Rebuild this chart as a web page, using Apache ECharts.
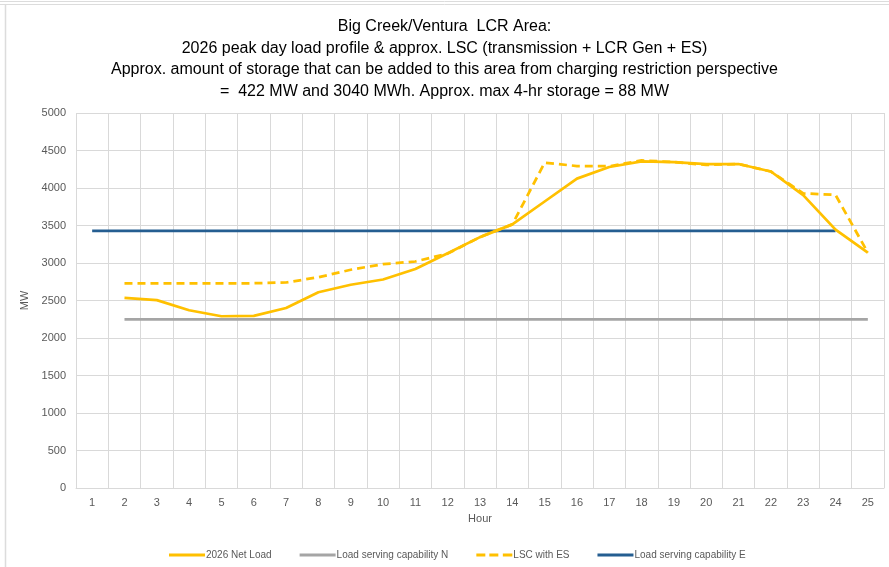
<!DOCTYPE html>
<html>
<head>
<meta charset="utf-8">
<script src="https://cdn.jsdelivr.net/npm/echarts@6/dist/echarts.min.js"></script>
<style>
html,body{margin:0;padding:0;background:#fff;}
#c{width:889px;height:567px;}
</style>
</head>
<body>
<div id="c"></div>
<script>
var hours = ['1','2','3','4','5','6','7','8','9','10','11','12','13','14','15','16','17','18','19','20','21','22','23','24','25'];
var netLoad = [null,2535,2505,2370,2290,2295,2400,2610,2710,2780,2920,3130,3345,3515,3820,4125,4280,4355,4345,4318,4320,4220,3905,3445,3138];
var capN = [null,2250,2250,2250,2250,2250,2250,2250,2250,2250,2250,2250,2250,2250,2250,2250,2250,2250,2250,2250,2250,2250,2250,2250,2250];
var lscES = [null,2730,2730,2730,2730,2730,2740,2810,2910,2985,3020,3125,3345,3515,4337,4293,4290,4368,4345,4308,4320,4220,3928,3908,3138];
var capE = [3430,3430,3430,3430,3430,3430,3430,3430,3430,3430,3430,3430,3430,3430,3430,3430,3430,3430,3430,3430,3430,3430,3430,3430,null];
var titleLines = [
  'Big Creek/Ventura  LCR Area:',
  '2026 peak day load profile & approx. LSC (transmission + LCR Gen + ES)',
  'Approx. amount of storage that can be added to this area from charging restriction perspective',
  '=  422 MW and 3040 MWh. Approx. max 4-hr storage = 88 MW'
];

var solidIcon = 'path://M0,0H36V3H0Z';
var dashIcon = 'path://M0,0H9V3H0Z M13,0H22V3H13Z M26.5,0H36V3H26.5Z';

var chart = echarts.init(document.getElementById('c'));
var font = 'Liberation Sans';
chart.setOption({
  animation: false,
  backgroundColor: '#fff',
  textStyle: {fontFamily: font},
  graphic: [
    {type:'line', shape:{x1:0,y1:1.5,x2:889,y2:1.5}, style:{stroke:'#dcdcdc',lineWidth:1}},
    {type:'line', shape:{x1:0,y1:4.5,x2:889,y2:4.5}, style:{stroke:'#dcdcdc',lineWidth:1}},
    {type:'line', shape:{x1:5.5,y1:5,x2:5.5,y2:567}, style:{stroke:'#dcdcdc',lineWidth:1.5}}
  ],
  title: {
    text: titleLines.join('\n'),
    left: 'center',
    top: 11,
    textStyle: {fontFamily: font, fontSize: 16, fontWeight: 'normal', color: '#000', lineHeight: 21.5}
  },
  legend: {
    left: 164,
    top: 545,
    itemWidth: 36,
    itemHeight: 3,
    itemGap: 28,
    textStyle: {fontSize: 10, color: '#595959', padding: [0,0,0,-4]},
    data: [
      {name:'2026 Net Load', icon: solidIcon},
      {name:'Load serving capability N', icon: solidIcon},
      {name:'LSC with ES', icon: dashIcon},
      {name:'Load serving capability E', icon: solidIcon}
    ]
  },
  grid: {left: 76, right: 5, top: 113, bottom: 79},
  xAxis: {
    type: 'category',
    data: hours,
    boundaryGap: true,
    name: 'Hour',
    nameLocation: 'middle',
    nameGap: 25,
    nameTextStyle: {fontSize: 11, color: '#595959'},
    axisLine: {lineStyle: {color: '#d9d9d9'}},
    axisTick: {show: false},
    axisLabel: {fontSize: 11, color: '#595959', margin: 9},
    splitLine: {show: true, lineStyle: {color: '#d9d9d9', width: 1}}
  },
  yAxis: {
    type: 'value',
    min: 0, max: 5000, interval: 500,
    name: 'MW',
    nameLocation: 'middle',
    nameGap: 45,
    nameTextStyle: {fontSize: 11, color: '#595959'},
    axisLine: {show: false},
    axisTick: {show: false},
    axisLabel: {fontSize: 11, color: '#595959', margin: 10, formatter: function(v){ return String(v); }},
    splitLine: {lineStyle: {color: '#d9d9d9', width: 1}}
  },
  series: [
    {name:'2026 Net Load', type:'line', data: netLoad, symbol:'none', z: 4,
     lineStyle:{color:'#FFC000', width:2.75}, itemStyle:{color:'#FFC000'}},
    {name:'Load serving capability N', type:'line', data: capN, symbol:'none', z: 2,
     lineStyle:{color:'#A5A5A5', width:2.75}, itemStyle:{color:'#A5A5A5'}},
    {name:'LSC with ES', type:'line', data: lscES, symbol:'none', z: 3,
     lineStyle:{color:'#FFC000', width:2.75, type:[8,5]}, itemStyle:{color:'#FFC000'}},
    {name:'Load serving capability E', type:'line', data: capE, symbol:'none', z: 2,
     lineStyle:{color:'#255E91', width:2.75}, itemStyle:{color:'#255E91'}}
  ]
});
</script>
</body>
</html>
